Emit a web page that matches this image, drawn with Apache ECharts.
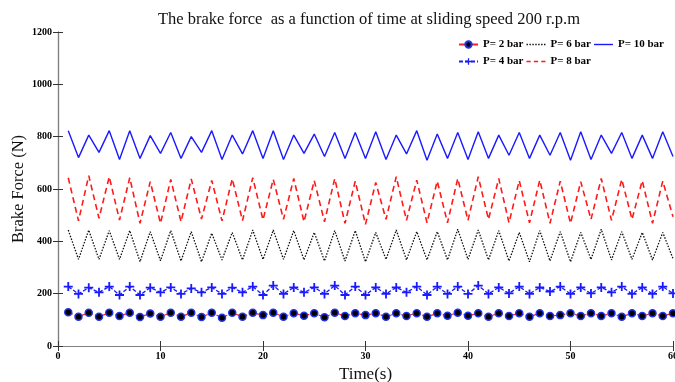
<!DOCTYPE html>
<html><head><meta charset="utf-8">
<script src="https://cdn.jsdelivr.net/npm/echarts@6/dist/echarts.min.js"></script>
<style>html,body{margin:0;padding:0;background:#fff}#c{width:675px;height:382px}</style>
</head><body><div id="c"></div>
<script>
var time = [];
for (var i = 1; i <= 60; i++) time.push(i);

var p2 = [129,112,127,112,127,115,127,111,124,112,127,112,127,111,127,108,127,112,127,118,
          127,112,125,116,125,110,127,115,125,118,125,112,125,115,125,112,125,116,127,116,
          125,112,125,115,125,112,125,115,118,125,115,125,115,125,112,125,115,125,115,125];
var p4 = [227,199,223,205,227,195,227,195,223,205,224,199,220,205,224,199,223,205,227,195,
          231,199,224,205,224,199,231,195,227,195,224,199,224,205,227,195,227,199,227,199,
          231,199,224,201,227,199,224,208,227,199,224,201,224,205,227,199,224,199,227,201];
var p6 = [443,331,443,331,441,331,441,322,437,326,441,325,437,322,431,329,434,329,443,331,
          443,331,441,329,434,325,441,325,441,322,434,331,443,329,437,329,437,329,446,331,
          443,329,441,325,434,322,441,325,437,322,434,331,446,329,437,331,434,329,434,334];
var p8 = [643,478,651,488,647,481,643,469,628,469,637,475,638,485,633,478,639,479,643,482,
          637,484,640,475,632,475,640,469,630,465,625,484,647,480,634,471,630,471,640,480,
          647,484,640,471,632,471,634,469,630,469,628,484,640,480,637,484,632,469,630,494];
var p10 = [823,720,806,740,823,713,823,717,804,736,816,717,800,740,823,713,806,734,823,717,
           823,713,806,736,810,724,816,717,816,717,819,713,806,734,823,710,810,717,816,713,
           819,717,806,729,816,717,806,729,816,710,819,713,806,736,816,717,806,717,819,724];

var xTicks = [0,10,20,30,40,50,60];
var yTicks = [0,200,400,600,800,1000,1200];

function pairs(arr){ return arr.map(function(v,i){ return [time[i], v]; }); }

var plusPath = 'path://M4,0 L6,0 L6,4 L10,4 L10,6 L6,6 L6,10 L4,10 L4,6 L0,6 L0,4 L4,4 Z';
var dottedIcon = (function(){ var s='path://'; for (var k=0;k<19;k+=3){ s+='M'+k+',0h1.5v1.4h-1.5z '; } return s; })();
var dashedIcon = 'path://M0,0h4v1.4h-4z M7,0h4v1.4h-4z M14,0h4v1.4h-4z';
var solidIcon = 'path://M0,0h19v1.4h-19z';
var serif = 'Liberation Serif';
var axisCol = '#808080';

var chart = echarts.init(document.getElementById('c'));
var legendText = {fontFamily: serif, fontWeight: 'bold', fontSize: 11, color: '#000'};
chart.setOption({
  animation: false,
  backgroundColor: '#fff',
  title: {
    text: 'The brake force  as a function of time at sliding speed 200 r.p.m',
    left: 153, top: 6,
    textStyle: {fontFamily: serif, fontWeight: 'normal', fontSize: 16.5, color: '#111'}
  },
  legend: [
    {data: ['P= 2 bar', {name: 'P= 6 bar', icon: dottedIcon}, {name: 'P= 10 bar', icon: solidIcon}],
     left: 458, top: 39, width: 240, itemWidth: 19, itemHeight: 8, itemGap: 3, textStyle: legendText, padding: 0},
    {data: ['P= 4 bar', {name: 'P= 8 bar', icon: dashedIcon}],
     left: 458, top: 56, width: 240, itemWidth: 19, itemHeight: 8, itemGap: 3, textStyle: legendText, padding: 0}
  ],
  grid: {left: 58, right: 2, top: 32, bottom: 36, containLabel: false, outerBoundsMode: 'none'},
  xAxis: [{
    type: 'value', min: 0, max: 60, interval: 10,
    name: 'Time(s)', nameLocation: 'middle', nameGap: 18,
    nameTextStyle: {fontFamily: serif, fontSize: 17, color: '#111'},
    axisLine: {show: true, lineStyle: {color: axisCol, width: 1.2}},
    axisTick: {inside: true, length: 5, lineStyle: {color: '#333'}},
    axisLabel: {fontFamily: serif, fontWeight: 'bold', fontSize: 10, color: '#000', margin: 5,
      formatter: function(v){ return xTicks.indexOf(v) >= 0 ? String(v) : ''; }},
    splitLine: {show: false}
  }, {
    type: 'value', min: 0, max: 60, interval: 10, position: 'top',
    axisLine: {show: true, lineStyle: {color: axisCol, width: 1.2}},
    axisTick: {inside: true, length: 5, lineStyle: {color: '#333'}},
    axisLabel: {show: false}, splitLine: {show: false}
  }],
  yAxis: [{
    type: 'value', min: 0, max: 1200, interval: 200,
    name: 'Brake Force (N)', nameLocation: 'middle', nameGap: 31, nameMoveOverlap: false,
    nameTextStyle: {fontFamily: serif, fontSize: 16.5, color: '#111'},
    axisLine: {show: true, lineStyle: {color: axisCol, width: 1.2}},
    axisTick: {show: true, inside: true, length: 5, lineStyle: {color: '#333'}},
    axisLabel: {fontFamily: serif, fontWeight: 'bold', fontSize: 10, color: '#000', margin: 6,
      formatter: function(v){ return yTicks.indexOf(v) >= 0 ? String(v) : ''; }},
    splitLine: {show: false}
  }, {
    type: 'value', min: 0, max: 1200, interval: 200, position: 'right',
    axisLine: {show: true, lineStyle: {color: axisCol, width: 1.2}},
    axisTick: {show: true, inside: true, length: 5, lineStyle: {color: '#333'}},
    axisLabel: {show: false}, splitLine: {show: false}
  }],
  series: [
    {name: 'P= 2 bar', type: 'line', data: pairs(p2), symbol: 'circle', symbolSize: 7,
     itemStyle: {color: '#000', borderColor: '#2233ee', borderWidth: 1.5},
     lineStyle: {color: '#ff2020', type: 'dashed', width: 1.2}},
    {name: 'P= 4 bar', type: 'line', data: pairs(p4), symbol: plusPath, symbolSize: 9,
     itemStyle: {color: '#1a1aff'},
     lineStyle: {color: '#1a1aff', type: [4,2], width: 1.3}},
    {name: 'P= 6 bar', type: 'line', data: pairs(p6), symbol: 'none',
     itemStyle: {color: '#111'},
     lineStyle: {color: '#111', type: [1.5,1.5], width: 1.3}},
    {name: 'P= 8 bar', type: 'line', data: pairs(p8), symbol: 'none',
     itemStyle: {color: '#ff1a1a'},
     lineStyle: {color: '#ff1a1a', type: [6,4], width: 1.6}},
    {name: 'P= 10 bar', type: 'line', data: pairs(p10), symbol: 'none',
     itemStyle: {color: '#1a1aff'},
     lineStyle: {color: '#1a1aff', width: 1.4}}
  ]
});
</script>
</body></html>
